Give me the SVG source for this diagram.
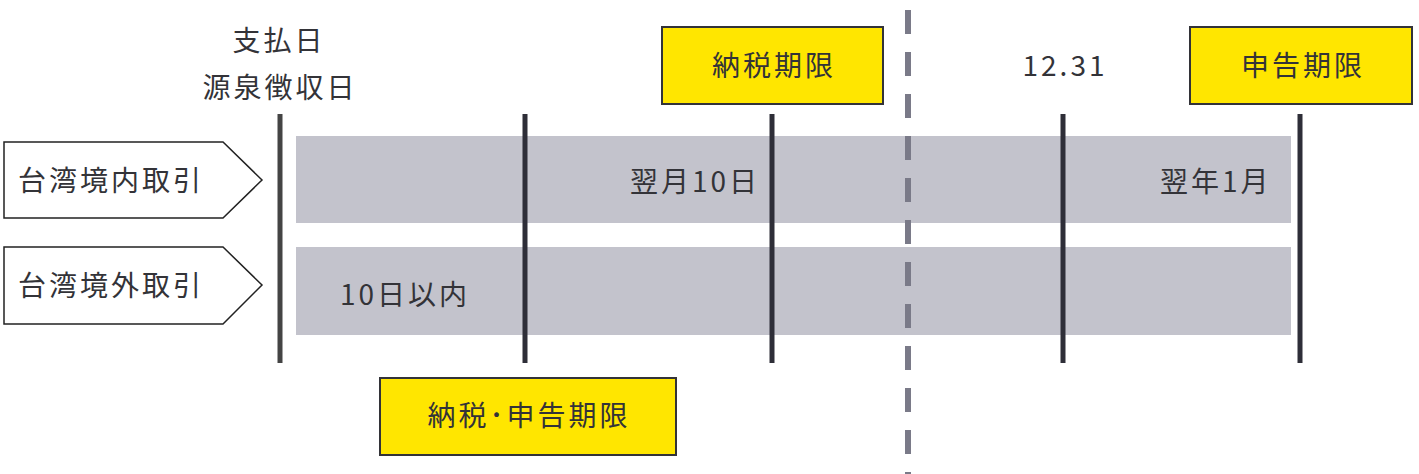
<svg xmlns="http://www.w3.org/2000/svg" width="1419" height="474" viewBox="0 0 1419 474">
<style>
.t{font-family:"Noto Sans CJK JP","Noto Sans CJK SC",sans-serif;font-size:28px;fill:#333338;letter-spacing:3px}
.bar{fill:#c3c3cc}
.box{fill:#ffe600;stroke:#333338;stroke-width:2}
.tag{fill:#fff;stroke:#222;stroke-width:1.5}
.vl{stroke:#2e2e38;stroke-width:5}
</style>
<rect width="1419" height="474" fill="#fff"/>
<g id="bars">
<rect class="bar" x="296" y="136" width="995" height="87"/>
<rect class="bar" x="296" y="247" width="995" height="88"/>
</g>
<g id="connectors">
<line x1="908" y1="10" x2="908" y2="474" stroke="#7a7a88" stroke-width="6" stroke-dasharray="24 18"/>
<line class="vl" x1="280" y1="114" x2="280" y2="363" style="stroke:#444"/>
<line class="vl" x1="525" y1="114" x2="525" y2="363"/>
<line class="vl" x1="772" y1="114" x2="772" y2="363"/>
<line class="vl" x1="1063" y1="114" x2="1063" y2="363"/>
<line class="vl" x1="1300" y1="114" x2="1300" y2="363"/>
</g>
<g id="tag-domestic">
<polygon class="tag" points="4,142 223,142 262,180 223,218 4,218"/>
<text class="t" x="18" y="191">台湾境内取引</text>
</g>
<g id="tag-foreign">
<polygon class="tag" points="4,247 223,247 262,285 223,324 4,324"/>
<text class="t" x="18" y="296">台湾境外取引</text>
</g>
<g id="label-payday">
<text class="t" x="279" y="51" text-anchor="middle">支払日</text>
<text class="t" x="280" y="98" text-anchor="middle">源泉徴収日</text>
</g>
<g id="label-1231"><text class="t" x="1065" y="76" text-anchor="middle">12.31</text></g>
<g id="label-nextmonth"><text class="t" x="630" y="192">翌月10日</text></g>
<g id="label-nextyear"><text class="t" x="1160" y="192">翌年1月</text></g>
<g id="label-10days"><text class="t" x="340" y="305">10日以内</text></g>
<g id="box-tax">
<rect class="box" x="662" y="27" width="221" height="77"/>
<text class="t" x="774" y="76" text-anchor="middle">納税期限</text>
</g>
<g id="box-filing">
<rect class="box" x="1190" y="27" width="222" height="77"/>
<text class="t" x="1303" y="76" text-anchor="middle">申告期限</text>
</g>
<g id="box-taxfiling">
<rect class="box" x="380" y="378" width="296" height="77"/>
<text class="t" x="529" y="426" text-anchor="middle">納税･申告期限</text>
</g>
</svg>
